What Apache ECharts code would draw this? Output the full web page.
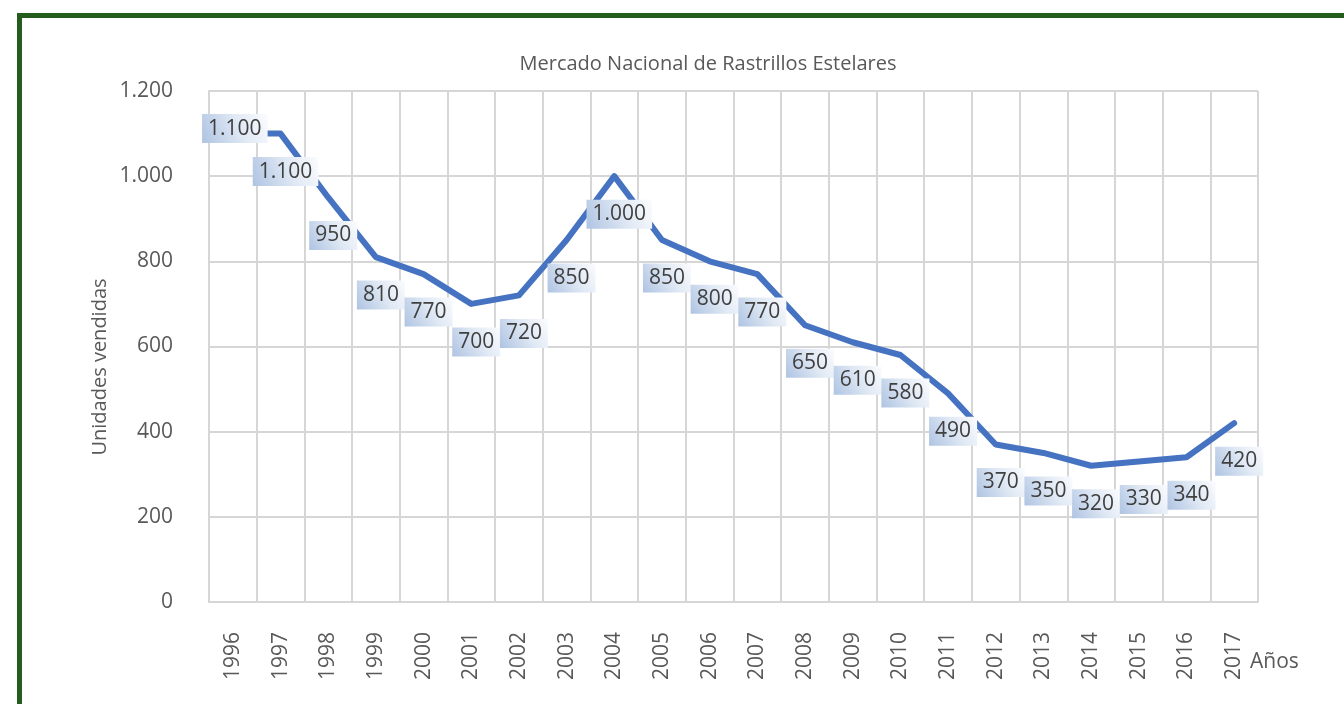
<!DOCTYPE html>
<html>
<head>
<meta charset="utf-8">
<script src="https://cdn.jsdelivr.net/npm/echarts@6/dist/echarts.min.js"></script>
<style>
  html, body { margin: 0; padding: 0; background: #ffffff; overflow: hidden; }
  #chart { width: 1344px; height: 704px; position: absolute; left: 0; top: 0; }
  #frame { position: absolute; left: 17px; top: 13px; width: 1400px; height: 800px;
           border: 5px solid #245c1e; box-sizing: border-box; pointer-events: none; }
</style>
</head>
<body>
<div id="chart"></div>
<div id="frame"></div>
<script>
// Annual national sales of star rakes, 1996-2017
const years = ['1996','1997','1998','1999','2000','2001','2002','2003','2004','2005','2006',
               '2007','2008','2009','2010','2011','2012','2013','2014','2015','2016','2017'];
const unitsSold = [1100, 1100, 950, 810, 770, 700, 720, 850, 1000, 850, 800,
                   770, 650, 610, 580, 490, 370, 350, 320, 330, 340, 420];
const yTicks = [0, 200, 400, 600, 800, 1000, 1200];

const chartTitle = 'Mercado Nacional de Rastrillos Estelares';
const yName = 'Unidades vendidas';
const xName = 'Años';

// Spanish thousands separator: 1100 -> "1.100"
function fmt(v) {
  return String(Math.round(v)).replace(/\B(?=(\d{3})+(?!\d))/g, '.');
}

const FONT = '"Open Sans", "Noto Sans", sans-serif';
const GRID_COLOR = '#d6d6d6';
const TEXT_COLOR = '#595959';
const LINE_COLOR = '#4673c1';

const labelBg = {
  type: 'linear', x: 0, y: 1, x2: 1, y2: 0,
  colorStops: [
    { offset: 0, color: '#aec3e2' },
    { offset: 0.55, color: '#dfe8f4' },
    { offset: 1, color: '#fbfcfe' }
  ]
};

const chart = echarts.init(document.getElementById('chart'), null, { renderer: 'canvas' });

chart.setOption({
  backgroundColor: '#ffffff',
  animation: false,
  grid: { left: 209, top: 91, width: 1049, height: 511, containLabel: false },
  graphic: [
    {
      type: 'text', x: 708, y: 64,
      style: { text: chartTitle, fontFamily: FONT, fontSize: 20, fill: TEXT_COLOR,
               textAlign: 'center', textVerticalAlign: 'middle' }
    },
    {
      type: 'text', x: 100, y: 367, rotation: Math.PI / 2,
      style: { text: yName, fontFamily: FONT, fontSize: 20, fill: TEXT_COLOR,
               textAlign: 'center', textVerticalAlign: 'middle' }
    },
    {
      type: 'text', x: 1250, y: 662,
      style: { text: xName, fontFamily: FONT, fontSize: 21, fill: TEXT_COLOR,
               textAlign: 'left', textVerticalAlign: 'middle' }
    }
  ],
  xAxis: {
    type: 'category',
    data: years,
    boundaryGap: true,
    axisLine: { show: true, lineStyle: { color: GRID_COLOR, width: 2 } },
    axisTick: { show: false },
    splitLine: { show: true, lineStyle: { color: GRID_COLOR, width: 2 } },
    axisLabel: { rotate: 90, margin: 30, fontFamily: FONT, fontSize: 21, color: TEXT_COLOR }
  },
  yAxis: {
    type: 'value',
    min: yTicks[0],
    max: yTicks[yTicks.length - 1],
    interval: yTicks[1] - yTicks[0],
    axisLine: { show: true, lineStyle: { color: GRID_COLOR, width: 2 } },
    axisTick: { show: false },
    splitLine: { show: true, lineStyle: { color: GRID_COLOR, width: 2 } },
    axisLabel: { margin: 36, fontFamily: FONT, fontSize: 21, color: TEXT_COLOR,
                 formatter: v => fmt(v) }
  },
  series: [{
    type: 'line',
    data: unitsSold,
    symbol: 'circle',
    symbolSize: 2,
    showSymbol: true,
    itemStyle: { color: LINE_COLOR },
    lineStyle: { color: LINE_COLOR, width: 6, join: 'round', cap: 'round' },
    label: {
      show: true,
      position: 'inside',
      formatter: p => fmt(p.value),
      fontFamily: FONT,
      fontSize: 21,
      lineHeight: 23,
      color: '#404040',
      backgroundColor: labelBg,
      padding: [4, 6, 2, 6]
    },
    // first label sits over its point, the rest hang just below the line
    labelLayout: p => p.dataIndex === 0
      ? { dx: 2, dy: -5, hideOverlap: false }
      : { dx: 5, dy: 38, hideOverlap: false },
    z: 3
  }]
});
</script>
</body>
</html>
